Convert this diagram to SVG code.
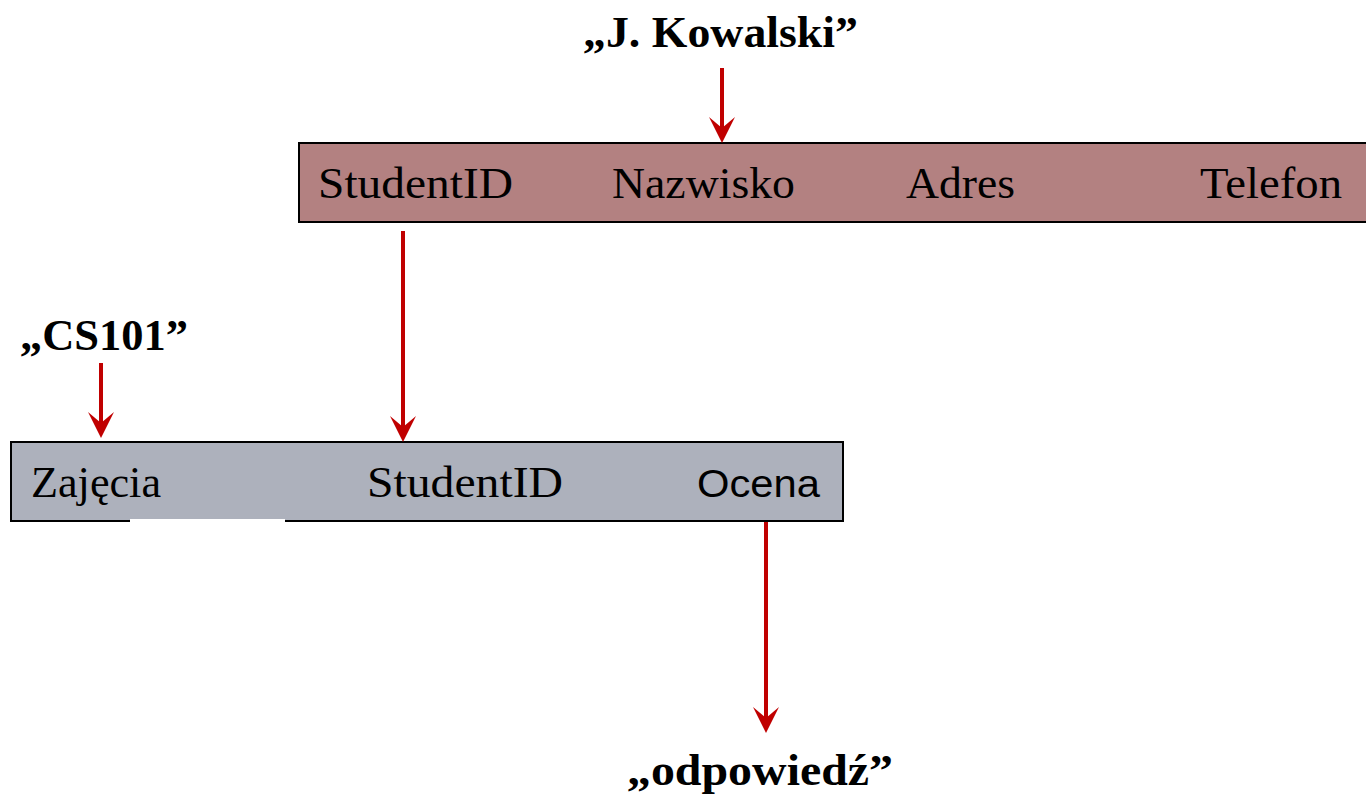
<svg xmlns="http://www.w3.org/2000/svg" width="1366" height="796" viewBox="0 0 1366 796">
<style>
.box-text{font-family:"Liberation Serif","Times New Roman",serif;font-size:45px;fill:#000}
.label{font-family:"Liberation Serif","Times New Roman",serif;font-size:44px;font-weight:bold;fill:#000}
.sans{font-family:"Liberation Sans",Arial,sans-serif;font-size:38px;fill:#000}
.conn{stroke:#c00000;stroke-width:4;fill:none}
.head{fill:#c00000}
</style>
<defs>
<path id="ah" d="M0,0 L-13,-26 L0,-15 L13,-26 Z"/>
</defs>
<rect width="1366" height="796" fill="#fff"/>
<g id="student-table">
<rect x="299" y="143" width="1080" height="79" fill="#b38181" stroke="#000" stroke-width="2"/>
<text class="box-text" x="318" y="198" textLength="195" lengthAdjust="spacingAndGlyphs">StudentID</text>
<text class="box-text" x="612" y="198" textLength="183" lengthAdjust="spacingAndGlyphs">Nazwisko</text>
<text class="box-text" x="906" y="198" textLength="109" lengthAdjust="spacingAndGlyphs">Adres</text>
<text class="box-text" x="1200" y="198" textLength="142" lengthAdjust="spacingAndGlyphs">Telefon</text>
</g>
<g id="grades-table">
<rect x="11" y="442" width="832" height="79" fill="#adb1bc" stroke="#000" stroke-width="2"/>
<rect x="130" y="519" width="155" height="4" fill="#fff"/>
<text class="box-text" x="31" y="497" textLength="130" lengthAdjust="spacingAndGlyphs">Zajęcia</text>
<text class="box-text" x="367" y="497" textLength="196" lengthAdjust="spacingAndGlyphs">StudentID</text>
<text class="sans" x="697" y="497" textLength="123" lengthAdjust="spacingAndGlyphs">Ocena</text>
</g>
<g id="label-kowalski">
<text class="label" x="583" y="47" textLength="275" lengthAdjust="spacingAndGlyphs">„J. Kowalski”</text>
</g>
<g id="label-cs101">
<text class="label" x="20" y="350" textLength="168" lengthAdjust="spacingAndGlyphs">„CS101”</text>
</g>
<g id="label-odpowiedz">
<text class="label" x="627" y="785" textLength="266" lengthAdjust="spacingAndGlyphs">„odpowiedź”</text>
</g>
<g id="connectors">
<line class="conn" x1="722" y1="68" x2="722" y2="130"/>
<use href="#ah" class="head" x="722" y="143"/>
<line class="conn" x1="403" y1="231" x2="403" y2="428"/>
<use href="#ah" class="head" x="403" y="442"/>
<line class="conn" x1="101" y1="363" x2="101" y2="425"/>
<use href="#ah" class="head" x="101" y="438"/>
<line class="conn" x1="766" y1="522" x2="766" y2="720"/>
<use href="#ah" class="head" x="766" y="733"/>
</g>
</svg>
